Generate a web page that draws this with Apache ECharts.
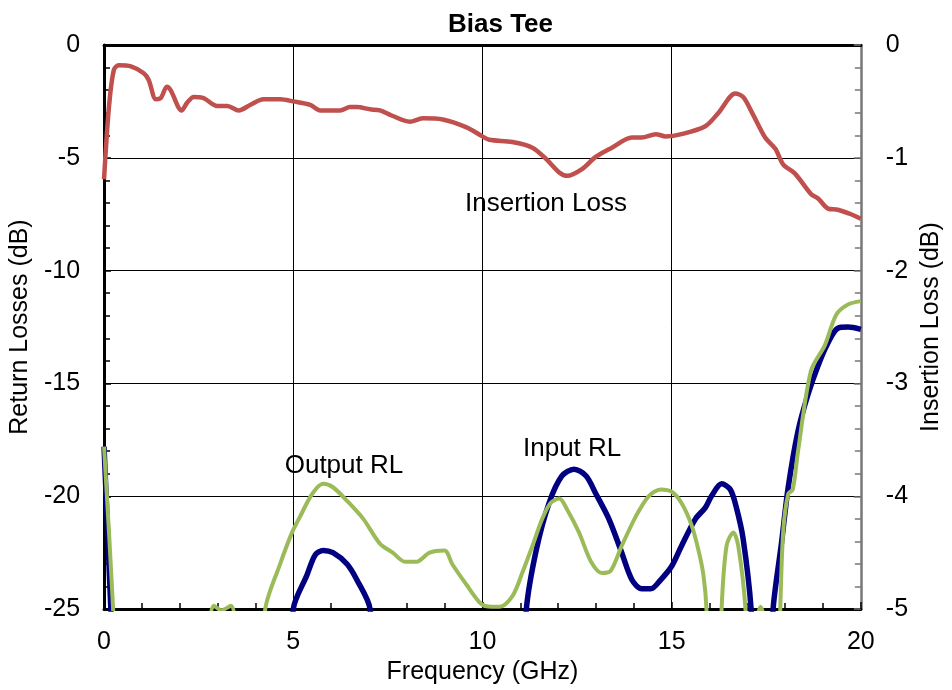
<!DOCTYPE html>
<html>
<head>
<meta charset="utf-8">
<script src="https://cdn.jsdelivr.net/npm/echarts@6/dist/echarts.min.js"></script>
<style>
html,body{margin:0;padding:0;background:#fff;}
#chart{width:952px;height:690px;}
</style>
</head>
<body>
<div id="chart"></div>
<script>
// ---- data ----
var ilFreq = [0,0.13,0.26,0.39,0.71,1.05,1.18,1.37,1.5,1.66,1.76,2.05,2.2,2.37,2.63,2.99,3.26,3.56,3.87,4.21,4.66,5.0,5.45,5.71,6.24,6.5,6.68,7.03,7.29,7.6,8.08,8.42,8.95,9.58,10.0,10.18,10.79,11.32,11.68,12.03,12.24,12.63,13.0,13.42,13.95,14.21,14.58,14.84,15.26,15.89,16.24,16.68,16.89,17.11,17.47,17.74,17.95,18.26,18.68,18.87,19.13,19.39,19.74,20];
var ilDb = [-1.19,-0.55,-0.22,-0.18,-0.19,-0.25,-0.31,-0.48,-0.47,-0.37,-0.40,-0.58,-0.51,-0.46,-0.47,-0.54,-0.54,-0.58,-0.53,-0.48,-0.48,-0.50,-0.53,-0.58,-0.58,-0.55,-0.55,-0.57,-0.58,-0.625,-0.68,-0.65,-0.66,-0.73,-0.81,-0.84,-0.86,-0.91,-1.01,-1.13,-1.16,-1.10,-0.99,-0.91,-0.82,-0.82,-0.79,-0.81,-0.79,-0.72,-0.60,-0.43,-0.46,-0.59,-0.82,-0.92,-1.06,-1.14,-1.32,-1.36,-1.45,-1.46,-1.50,-1.54];

var inFreq = [0,0.18,0.3,4.9,5.0,5.36,5.58,5.79,6.05,6.42,6.68,7.03,7.15,11.0,11.16,11.42,11.76,12.1,12.42,12.74,13.0,13.34,13.66,13.95,14.21,14.45,14.71,15.0,15.26,15.63,15.89,16.05,16.32,16.55,16.71,16.89,17.1,17.25,17.55,17.68,17.9,18.08,18.34,18.6,18.87,19.13,19.39,19.66,20];
var inDb = [-17.8,-25,-30,-30,-25,-23.5,-22.6,-22.4,-22.5,-23.0,-23.7,-25,-30,-30,-25,-22.4,-20.3,-19.1,-18.8,-19.1,-19.9,-21.0,-22.4,-23.7,-24.1,-24.1,-23.7,-23.1,-22.2,-21.0,-20.5,-20.0,-19.45,-19.7,-20.5,-21.9,-25,-30,-30,-25,-22.1,-19.6,-17.1,-15.5,-14.2,-13.2,-12.55,-12.5,-12.6];

var outFreq = [0,0.24,0.35,2.6,2.75,2.9,3.1,3.35,3.5,3.7,4.1,4.26,4.66,4.97,5.18,5.5,5.79,6.05,6.42,6.85,7.29,7.63,7.95,8.26,8.6,9.0,9.2,9.57,9.92,10.1,10.45,10.8,11.05,11.32,11.58,11.8,12.03,12.24,12.55,12.87,13.16,13.39,13.68,14.05,14.39,14.71,15.0,15.26,15.53,15.71,15.84,15.92,16.0,16.25,16.32,16.45,16.63,16.76,16.95,17.05,17.2,17.35,17.5,17.6,17.8,17.87,17.95,18.08,18.2,18.34,18.68,19.05,19.35,19.66,20];
var outDb = [-17.8,-25,-30,-30,-26,-24.85,-25.05,-24.85,-26,-30,-30,-25,-22.97,-21.6,-20.9,-19.9,-19.45,-19.6,-20.2,-21.0,-22.1,-22.5,-22.9,-22.9,-22.5,-22.4,-23.0,-23.9,-24.7,-24.87,-24.9,-24.4,-23.4,-22.2,-21.0,-20.3,-20.1,-20.6,-21.6,-22.9,-23.4,-23.3,-22.2,-20.9,-20.0,-19.7,-19.8,-20.3,-21.3,-22.4,-23.5,-25,-30,-30,-25,-22.2,-21.6,-22.2,-25,-30,-26,-24.9,-26,-30,-30,-25,-21.5,-19.9,-19.7,-18.0,-14.45,-13.3,-11.95,-11.5,-11.35];

var xTicks = [0,5,10,15,20];
var leftTicks = [0,-5,-10,-15,-20,-25];
var rightTicks = [0,-1,-2,-3,-4,-5];

// annotation texts and their anchor in data space [freq, value]
var annIL = {text:'Insertion Loss', at:[11.68,-1.408]};
var annOut = {text:'Output RL', at:[6.34,-18.66]};
var annIn = {text:'Input RL', at:[12.37,-17.91]};

function zip(a,b){ var r=[]; for(var i=0;i<a.length;i++) r.push([a[i],b[i]]); return r; }

var FONT = "'Liberation Sans', Arial, sans-serif";
function ann(a){
  return {
    symbol:'circle', symbolSize:0, silent:true, animation:false,
    data:[{coord:a.at, value:a.text}],
    label:{show:true, position:'inside', formatter:a.text, color:'#000', fontSize:26, fontFamily:FONT}
  };
}

var chart = echarts.init(document.getElementById('chart'), null, {renderer:'canvas'});
chart.setOption({
  animation:false,
  backgroundColor:'#fff',
  title:{text:'Bias Tee', left:443, top:7, textStyle:{fontSize:26, fontWeight:'bold', color:'#000', fontFamily:FONT}},
  grid:{left:103, right:89, top:45, bottom:77, show:false},
  xAxis:[{
    type:'value', min:0, max:20, interval:5, position:'bottom',
    name:'Frequency (GHz)', nameLocation:'middle', nameGap:46,
    nameTextStyle:{fontSize:25, color:'#000', fontFamily:FONT},
    axisLine:{show:true, onZero:false, lineStyle:{color:'#000', width:3}},
    axisTick:{show:true, inside:true, length:7, lineStyle:{color:'#000', width:1.5}},
    minorTick:{show:true, splitNumber:5, length:6, lineStyle:{color:'#000', width:1.5}},
    splitLine:{show:true, lineStyle:{color:'#000', width:1}},
    axisLabel:{fontSize:25, color:'#000', margin:21, fontFamily:FONT,
      formatter:function(v){ return xTicks.indexOf(v)>=0 ? String(v) : ''; }}
  },{
    type:'value', min:0, max:20, position:'top',
    axisLine:{show:true, onZero:false, lineStyle:{color:'#000', width:3}},
    axisTick:{show:false}, axisLabel:{show:false}, splitLine:{show:false}
  }],
  yAxis:[{
    type:'value', min:-25, max:0, interval:5, position:'left',
    name:'Return Losses (dB)', nameLocation:'middle', nameGap:60, nameRotate:90,
    nameTextStyle:{fontSize:25, color:'#000', fontFamily:FONT},
    axisLine:{show:true, onZero:false, lineStyle:{color:'#000', width:3}},
    axisTick:{show:true, inside:true, length:7, lineStyle:{color:'#000', width:1.5}},
    minorTick:{show:true, splitNumber:5, length:6, lineStyle:{color:'#000', width:1.5}},
    splitLine:{show:true, lineStyle:{color:'#000', width:1}},
    axisLabel:{fontSize:25, color:'#000', margin:24, fontFamily:FONT,
      formatter:function(v){ return leftTicks.indexOf(v)>=0 ? String(v) : ''; }}
  },{
    type:'value', min:-5, max:0, interval:1, position:'right',
    name:'Insertion Loss (dB)', nameLocation:'middle', nameGap:58, nameRotate:90,
    nameTextStyle:{fontSize:25, color:'#000', fontFamily:FONT},
    axisLine:{show:true, onZero:false, lineStyle:{color:'#777', width:2.5}},
    axisTick:{show:true, inside:true, length:7, lineStyle:{color:'#777', width:1.5}},
    minorTick:{show:true, splitNumber:5, length:6, lineStyle:{color:'#777', width:1.5}},
    splitLine:{show:false},
    axisLabel:{fontSize:25, color:'#000', margin:25, fontFamily:FONT,
      formatter:function(v){ return rightTicks.indexOf(v)>=0 ? String(v) : ''; }}
  }],
  series:[{
    name:'Input RL', type:'line', xAxisIndex:0, yAxisIndex:0, data:zip(inFreq,inDb),
    showSymbol:false, clip:true, smooth:0.3,
    lineStyle:{color:'#000080', width:5.5}, z:3, markPoint:ann(annIn)
  },{
    name:'Output RL', type:'line', xAxisIndex:0, yAxisIndex:0, data:zip(outFreq,outDb),
    showSymbol:false, clip:true, smooth:0.3,
    lineStyle:{color:'#9BBB59', width:4}, z:4, markPoint:ann(annOut)
  },{
    name:'Insertion Loss', type:'line', xAxisIndex:0, yAxisIndex:1, data:zip(ilFreq,ilDb),
    showSymbol:false, clip:true, smooth:0.3,
    lineStyle:{color:'#C0504D', width:4.5}, z:5, markPoint:ann(annIL)
  }]
});
</script>
</body>
</html>
